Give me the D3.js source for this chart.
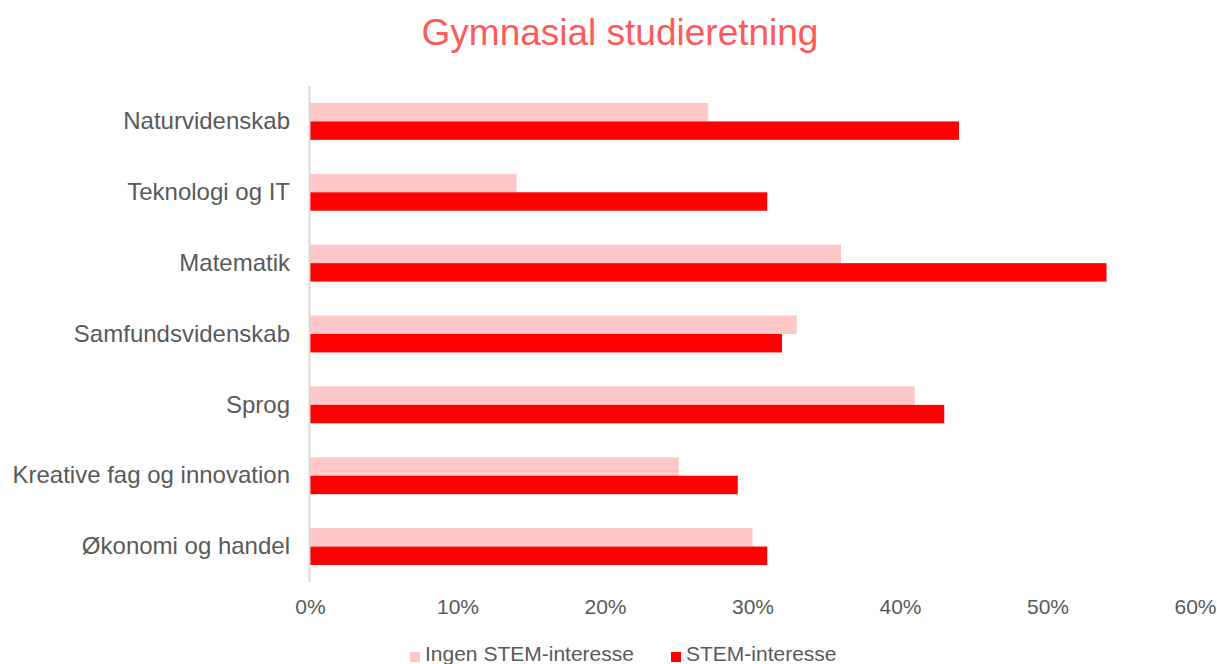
<!DOCTYPE html>
<html>
  <head>
    <meta charset="utf-8">
    <title>Gymnasial studieretning</title>
    <style>
      body {
        margin: 0;
        background-color: #fff;
        font-family: Arial, "Liberation Sans", sans-serif;
      }

      .axis path,
      .axis line {
        fill: none;
        stroke: none;
      }

      .axis text {
        fill: #595959;
        font-family: Arial, "Liberation Sans", sans-serif;
      }

      .x.axis text { font-size: 21px; }
      .y.axis text { font-size: 24px; }
    </style>
  </head>

  <body>
    <div class="chart"></div>

    <script src="https://d3js.org/d3.v7.min.js"></script>
    <script>
      // Chart data
      var categories = ["Naturvidenskab", "Teknologi og IT", "Matematik", "Samfundsvidenskab",
                        "Sprog", "Kreative fag og innovation", "Økonomi og handel"];
      var seriesNames = ["Ingen STEM-interesse", "STEM-interesse"];
      var ingenStem = [0.27, 0.14, 0.36, 0.33, 0.41, 0.25, 0.30];
      var stem = [0.44, 0.31, 0.54, 0.32, 0.43, 0.29, 0.31];
      var xTicks = [0, 0.1, 0.2, 0.3, 0.4, 0.5, 0.6];
      var colors = ["#ffc7c7", "#ff0000"];

      var rows = categories.map(function(c, i) {
        return {category: c, values: [ingenStem[i], stem[i]]};
      });

      // Dimensions
      var width = 1217, height = 664;
      var margin = {top: 86, right: 22, bottom: 82, left: 310};
      var innerW = width - margin.left - margin.right;
      var innerH = height - margin.top - margin.bottom;

      var svg = d3.select(".chart").append("svg")
        .attr("width", width)
        .attr("height", height);

      // Title
      svg.append("text")
        .attr("x", 620)
        .attr("y", 45)
        .attr("text-anchor", "middle")
        .style("font-size", "37px")
        .style("fill", "#ff5a5a")
        .text("Gymnasial studieretning");

      var g = svg.append("g")
        .attr("transform", "translate(" + margin.left + "," + margin.top + ")");

      // Scales
      var x = d3.scaleLinear()
        .domain([0, 0.6])
        .range([0, innerW]);

      var y = d3.scaleBand()
        .domain(categories)
        .range([0, innerH])
        .padding(0);

      var ySub = d3.scaleBand()
        .domain([0, 1])
        .range([0, y.bandwidth()])
        .paddingInner(0)
        .paddingOuter(0.92);

      // Bars
      var groups = g.selectAll(".cat")
        .data(rows)
        .enter().append("g")
        .attr("class", "cat")
        .attr("transform", function(d) { return "translate(0," + y(d.category) + ")"; });

      groups.selectAll("rect")
        .data(function(d) { return d.values; })
        .enter().append("rect")
        .attr("x", x(0))
        .attr("y", function(d, i) { return ySub(i); })
        .attr("width", function(d) { return x(d) - x(0); })
        .attr("height", ySub.bandwidth())
        .attr("fill", function(d, i) { return colors[i]; });

      // Vertical axis line
      g.append("line")
        .attr("x1", x(0) - 0.5)
        .attr("x2", x(0) - 0.5)
        .attr("y1", 0)
        .attr("y2", innerH)
        .attr("stroke", "#d9d9d9")
        .attr("stroke-width", 2);

      // Axes
      g.append("g")
        .attr("class", "x axis")
        .attr("transform", "translate(0," + innerH + ")")
        .call(d3.axisBottom(x).tickValues(xTicks).tickFormat(d3.format(".0%")).tickSize(0).tickPadding(17));

      g.append("g")
        .attr("class", "y axis")
        .call(d3.axisLeft(y).tickSize(0).tickPadding(20));

      // Legend
      var legendX = [410, 671];
      var legend = svg.selectAll(".legend")
        .data(seriesNames)
        .enter().append("g")
        .attr("class", "legend")
        .attr("transform", function(d, i) { return "translate(" + legendX[i] + ",652)"; });

      legend.append("rect")
        .attr("width", 10)
        .attr("height", 10)
        .attr("fill", function(d, i) { return colors[i]; });

      legend.append("text")
        .attr("x", 15)
        .attr("y", 9)
        .style("font-size", "21px")
        .style("fill", "#595959")
        .text(function(d) { return d; });
    </script>
  </body>
</html>
